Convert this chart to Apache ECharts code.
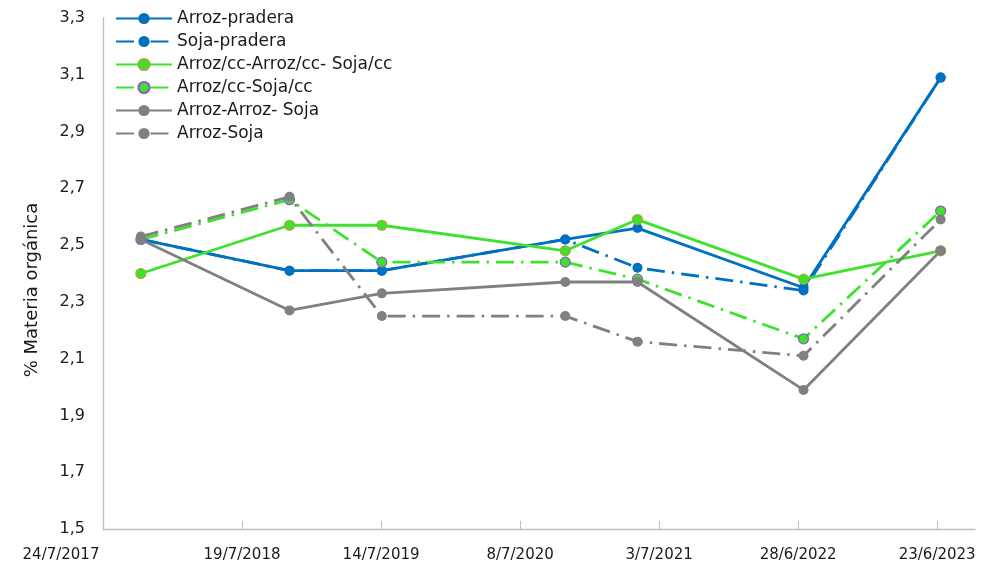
<!DOCTYPE html>
<html>
<head>
<meta charset="utf-8">
<script src="https://cdn.jsdelivr.net/npm/echarts@6/dist/echarts.min.js"></script>
<style>html,body{margin:0;padding:0;background:#fff}#c{width:985px;height:570px}</style>
</head>
<body>
<div id="c"></div>
<script>
// ---- data ----
const baseDate = '2017-07-24';
const sampleDates = ['2017-10-30','2018-11-19','2019-07-16','2020-11-02','2021-05-08','2022-07-12','2023-07-02'];
const seriesNames = ['Arroz-pradera','Soja-pradera','Arroz/cc-Arroz/cc- Soja/cc','Arroz/cc-Soja/cc','Arroz-Arroz- Soja','Arroz-Soja'];
const arrozPradera = [2.52, 2.41, 2.41, 2.52, 2.56, 2.35, 3.09];
const sojaPradera = [2.52, 2.41, 2.41, 2.52, 2.42, 2.34, 3.09];
const arrozCcArrozCcSojaCc = [2.40, 2.57, 2.57, 2.48, 2.59, 2.38, 2.48];
const arrozCcSojaCc = [2.52, 2.66, 2.44, 2.44, 2.38, 2.17, 2.62];
const arrozArrozSoja = [2.52, 2.27, 2.33, 2.37, 2.37, 1.99, 2.48];
const arrozSoja = [2.53, 2.67, 2.25, 2.25, 2.16, 2.11, 2.59];
const yTicks = [1.5, 1.7, 1.9, 2.1, 2.3, 2.5, 2.7, 2.9, 3.1, 3.3];
const xTickDays = [0, 360, 720, 1080, 1440, 1800, 2160];
const yTitle = '% Materia orgánica';

// ---- helpers ----
function toDays(s){
  const [y,m,d] = s.split('-').map(Number);
  const [by,bm,bd] = baseDate.split('-').map(Number);
  return Math.round((Date.UTC(y,m-1,d) - Date.UTC(by,bm-1,bd)) / 86400000);
}
function dayLabel(v){
  const [by,bm,bd] = baseDate.split('-').map(Number);
  const dt = new Date(Date.UTC(by,bm-1,bd) + Math.round(v)*86400000);
  return dt.getUTCDate() + '/' + (dt.getUTCMonth()+1) + '/' + dt.getUTCFullYear();
}
const xs = sampleDates.map(toDays);
const pair = arr => arr.map((v,i)=>[xs[i], v]);

const BLUE = '#0070C0', GREEN = '#3DE22C', GRAY = '#808080';
const DASHDOT = [18, 7, 2.5, 7];
const FONT = 'DejaVu Sans';

function mk(name, data, color, dashed, border){
  return {
    name, type:'line', data: pair(data),
    symbol:'circle', symbolSize:10,
    lineStyle:{color, width:2.8, type: dashed ? DASHDOT : 'solid', cap:'butt'},
    itemStyle:{color, borderColor: border || color, borderWidth: border ? 1.2 : 0},
    emphasis:{disabled:true},
    animation:false
  };
}

const chart = echarts.init(document.getElementById('c'), null, {renderer:'canvas'});
chart.setOption({
  animation:false,
  backgroundColor:'#ffffff',
  grid:{left:103, right:10, top:18, bottom:41, containLabel:false},
  legend:{
    orient:'vertical', left:110, top:5,
    itemWidth:56, itemHeight:14, itemGap:6,
    textStyle:{fontFamily:FONT, fontSize:17, color:'#1a1a1a'},
    data: seriesNames
  },
  xAxis:{
    type:'value', min:0, max:2258, interval:360,
    axisLine:{show:true, lineStyle:{color:'#BFBFBF', width:1.3}},
    axisTick:{show:true, inside:true, length:8, lineStyle:{color:'#BFBFBF'}, customValues:xTickDays},
    splitLine:{show:false},
    axisLabel:{
      customValues:xTickDays,
      margin:19, fontFamily:FONT, fontSize:15, color:'#1a1a1a',
      formatter:function(v){
        if (xTickDays.indexOf(Math.round(v)) < 0) return '';
        const t = dayLabel(v);
        return v === 0 ? '{f|' + t + '}' : t;
      },
      rich:{f:{fontFamily:FONT, fontSize:15, color:'#1a1a1a', padding:[0,84,0,0]}}
    }
  },
  yAxis:{
    type:'value', min:yTicks[0], max:yTicks[yTicks.length-1], interval:0.2,
    axisLine:{show:true, lineStyle:{color:'#BFBFBF', width:1.3}},
    axisTick:{show:false},
    splitLine:{show:false},
    axisLabel:{margin:18, fontFamily:FONT, fontSize:16, color:'#1a1a1a',
      formatter:v => v.toFixed(1).replace('.', ',')}
  },
  graphic:[{
    type:'text', x:32, y:290, rotation:Math.PI/2,
    style:{text:yTitle, fontFamily:FONT, fontSize:18, fill:'#1a1a1a', align:'center', verticalAlign:'middle'}
  }],
  series:[
    mk(seriesNames[0], arrozPradera, BLUE, false),
    mk(seriesNames[1], sojaPradera, BLUE, true),
    mk(seriesNames[2], arrozCcArrozCcSojaCc, GREEN, false, '#A8A83E'),
    mk(seriesNames[3], arrozCcSojaCc, GREEN, true, '#8A5CC4'),
    mk(seriesNames[4], arrozArrozSoja, GRAY, false),
    mk(seriesNames[5], arrozSoja, GRAY, true)
  ]
});
</script>
</body>
</html>
